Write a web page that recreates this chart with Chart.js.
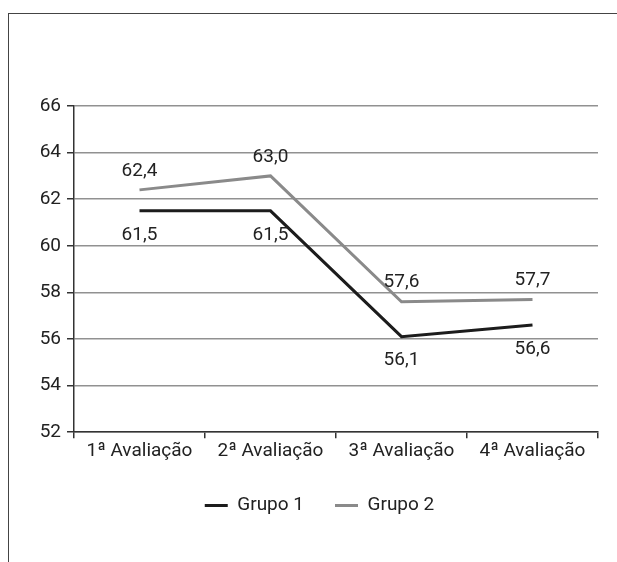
<!DOCTYPE html>
<html lang="pt">
<head>
  <meta charset="UTF-8">
  <title>Avaliações por grupo</title>
  <script src="https://cdn.jsdelivr.net/npm/chart.js"></script>
  <style>
    html, body { margin: 0; padding: 0; background: #fff; overflow: hidden; }
    /* frame of the figure, cut at the right and bottom like the scan */
    .frame {
      position: absolute;
      left: 8px;
      top: 13px;
      width: 620px;
      height: 560px;
      border-left: 1.5px solid #444;
      border-top: 1.5px solid #444;
    }
  </style>
</head>
<body>
  <div class="frame">
    <canvas id="chart" width="620" height="549"></canvas>
  </div>

  <script>
    const categories = ['1ª Avaliação', '2ª Avaliação', '3ª Avaliação', '4ª Avaliação'];
    const grupo1 = [61.5, 61.5, 56.1, 56.6];
    const grupo2 = [62.4, 63.0, 57.6, 57.7];
    const yTicks = [52, 54, 56, 58, 60, 62, 64, 66];

    const FONT = "Roboto, 'Liberation Sans', sans-serif";
    const SIZE = 19;

    // writes the value beside each point (comma as decimal mark)
    const valueLabels = {
      id: 'valueLabels',
      afterDatasetsDraw(chart) {
        const ctx = chart.ctx;
        ctx.save();
        ctx.font = SIZE + 'px ' + FONT;
        ctx.fillStyle = '#222';
        ctx.textAlign = 'center';
        ctx.textBaseline = 'middle';
        chart.data.datasets.forEach((ds, i) => {
          const meta = chart.getDatasetMeta(i);
          meta.data.forEach((pt, j) => {
            const txt = ds.data[j].toFixed(1).replace('.', ',');
            ctx.fillText(txt, pt.x, pt.y + ds.labelOffset);
          });
        });
        ctx.restore();
      }
    };

    // the legend is centred on the whole figure, not on the padded area
    const legendShift = {
      id: 'legendShift',
      afterLayout(chart) {
        const lg = chart.legend;
        if (!lg) return;
        lg.left += 16;
        lg.right += 16;
        lg.adjustHitBoxes();
      }
    };

    new Chart(document.getElementById('chart'), {
      type: 'line',
      data: {
        labels: categories,
        datasets: [
          {
            label: 'Grupo 1',
            data: grupo1,
            borderColor: '#1c1c1c',
            backgroundColor: '#1c1c1c',
            borderWidth: 3,
            pointRadius: 0,
            tension: 0,
            labelOffset: 24
          },
          {
            label: 'Grupo 2',
            data: grupo2,
            borderColor: '#8a8a8a',
            backgroundColor: '#8a8a8a',
            borderWidth: 3,
            pointRadius: 0,
            tension: 0,
            labelOffset: -19
          }
        ]
      },
      options: {
        responsive: false,
        animation: false,
        layout: { padding: { top: 92, right: 31, left: 0, bottom: 38 } },
        plugins: {
          tooltip: { enabled: false },
          legend: {
            position: 'bottom',
            labels: {
              color: '#222',
              font: { family: FONT, size: SIZE },
              boxWidth: 23,
              boxHeight: 3,
              padding: 31,
              generateLabels(chart) {
                return chart.data.datasets.map((ds, i) => ({
                  text: ds.label,
                  fillStyle: ds.borderColor,
                  strokeStyle: ds.borderColor,
                  lineWidth: 0,
                  fontColor: '#222',
                  datasetIndex: i
                }));
              }
            }
          }
        },
        scales: {
          x: {
            offset: true,
            border: { color: '#333', width: 1.5 },
            grid: {
              offset: true,
              drawOnChartArea: false,
              drawTicks: true,
              tickLength: 6,
              tickColor: '#333',
              lineWidth: 1.5
            },
            ticks: {
              color: '#222',
              font: { family: FONT, size: SIZE },
              padding: 2,
              maxRotation: 0
            }
          },
          y: {
            min: 52,
            max: 66,
            afterBuildTicks(scale) {
              scale.ticks = yTicks.map(v => ({ value: v }));
            },
            afterFit(scale) { scale.width = 65; },
            border: { color: '#333', width: 1.5 },
            grid: {
              color: '#919191',
              lineWidth: 1.5,
              tickColor: '#333',
              tickLength: 7
            },
            ticks: {
              color: '#222',
              font: { family: FONT, size: SIZE },
              padding: 6
            }
          }
        }
      },
      plugins: [valueLabels, legendShift]
    });
  </script>
</body>
</html>
